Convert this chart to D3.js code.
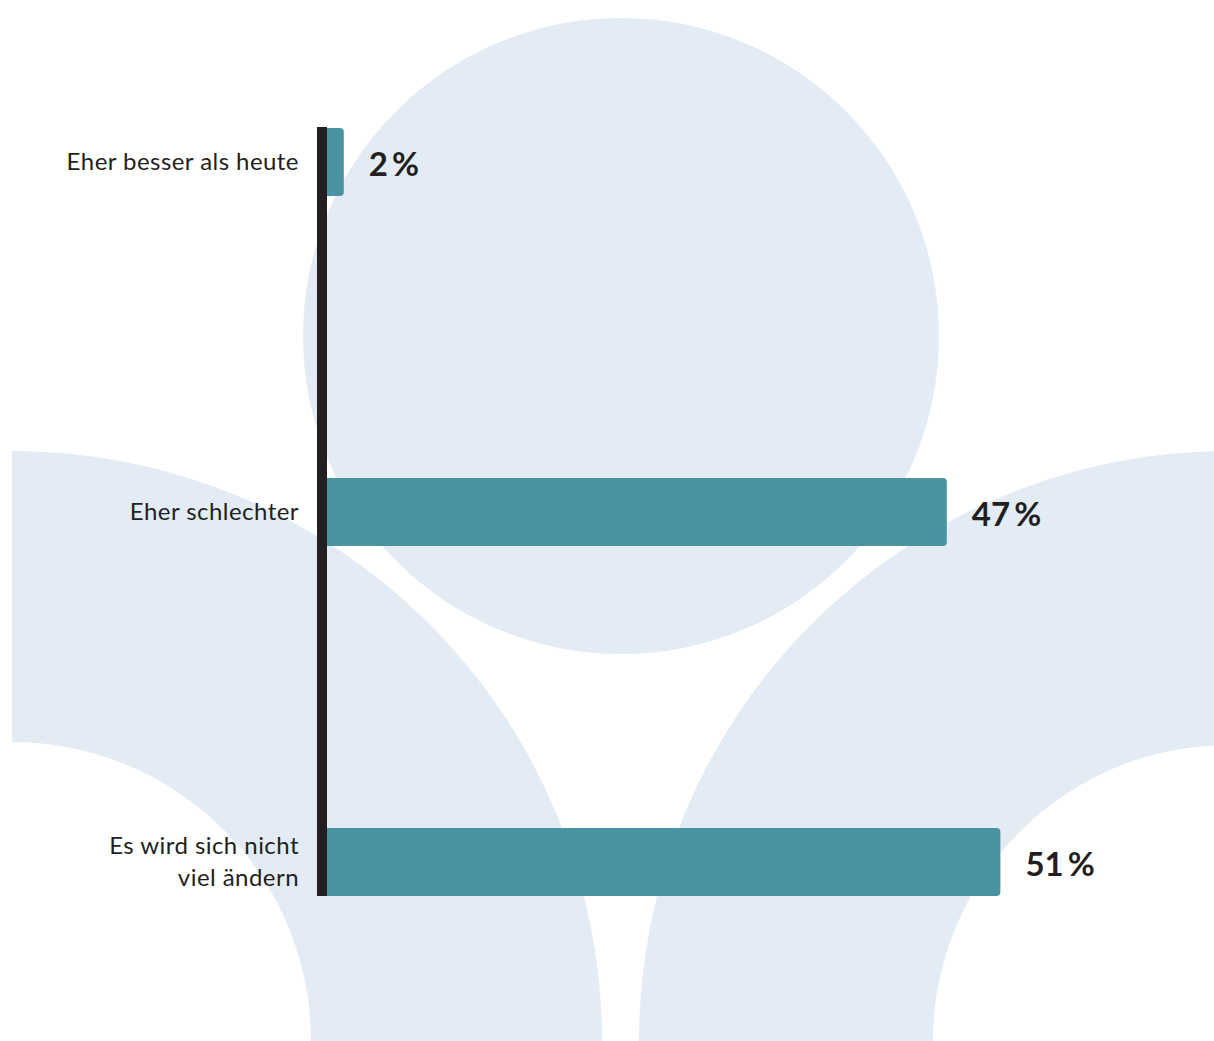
<!DOCTYPE html>
<html>
<head>
<meta charset="utf-8">
<script src="https://cdn.jsdelivr.net/npm/d3@7"></script>
<style>
  html, body { margin: 0; padding: 0; background: #ffffff; }
  svg { display: block; }
</style>
</head>
<body>
<div id="chart"></div>
<script>
// ---- data ----
const categories = ["Eher besser als heute", "Eher schlechter", "Es wird sich nicht viel ändern"];
const categoryLines = [["Eher besser als heute"], ["Eher schlechter"], ["Es wird sich nicht", "viel ändern"]];
const values = [2, 47, 51];
const valueLabels = ["2\u2009%", "47\u2009%", "51\u2009%"];

// ---- layout ----
const W = 1214, H = 1041;
const svg = d3.select("#chart").append("svg").attr("width", W).attr("height", H);

// decorative background
const bgColor = "#e3ecf4";
const bg = svg.append("g");
bg.append("circle").attr("cx", 621).attr("cy", 336).attr("r", 318).attr("fill", bgColor);
const arcGen = d3.arc();
bg.append("path")
  .attr("transform", "translate(12,1041)")
  .attr("d", arcGen({innerRadius: 299, outerRadius: 590, startAngle: 0, endAngle: Math.PI / 2}))
  .attr("fill", bgColor);
bg.append("path")
  .attr("transform", "translate(1229,1041)")
  .attr("d", arcGen({innerRadius: 296, outerRadius: 590, startAngle: -Math.PI / 2, endAngle: 0}))
  .attr("fill", bgColor);

// scales
const x = d3.scaleLinear().domain([0, 100]).range([317, 1657]);
const y = d3.scaleBand().domain(categories).range([128, 896]).paddingInner(0.8057).paddingOuter(0);

const barColor = "#4a94a1";
const textColor = "#231f20";
const r = 4;

function barPath(x0, x1, y0, h) {
  const rr = Math.min(r, (x1 - x0) / 2);
  const p = d3.path();
  p.moveTo(x0, y0);
  p.lineTo(x1 - rr, y0);
  p.arcTo(x1, y0, x1, y0 + rr, rr);
  p.lineTo(x1, y0 + h - rr);
  p.arcTo(x1, y0 + h, x1 - rr, y0 + h, rr);
  p.lineTo(x0, y0 + h);
  p.closePath();
  return p.toString();
}

const g = svg.append("g");
g.selectAll("path.bar").data(values).join("path")
  .attr("class", "bar")
  .attr("d", (d, i) => barPath(x(0), x(d), y(categories[i]), y.bandwidth()))
  .attr("fill", barColor);

// axis line
g.append("rect")
  .attr("x", x(0)).attr("y", 127)
  .attr("width", 10).attr("height", 769)
  .attr("fill", textColor);

// category labels
const labelFont = "Lato, 'Open Sans', sans-serif";
categories.forEach((c, i) => {
  const cy = y(c) + y.bandwidth() / 2;
  const lines = categoryLines[i];
  const lh = 32;
  const t = g.append("text")
    .attr("text-anchor", "end")
    .attr("font-family", labelFont)
    .attr("font-size", 24)
    .attr("letter-spacing", "0.45px")
    .attr("fill", textColor);
  lines.forEach((ln, j) => {
    t.append("tspan")
      .attr("x", 299)
      .attr("y", cy + (j - (lines.length - 1) / 2) * lh)
      .attr("dy", "0.35em")
      .text(ln);
  });
});

// value labels
g.selectAll("text.val").data(values).join("text")
  .attr("class", "val")
  .attr("x", d => x(d) + 25)
  .attr("y", (d, i) => y(categories[i]) + y.bandwidth() / 2 + 2)
  .attr("dy", "0.35em")
  .attr("font-family", labelFont)
  .attr("font-weight", 700)
  .attr("font-size", 33)
  .attr("fill", textColor)
  .text((d, i) => valueLabels[i]);
</script>
</body>
</html>
